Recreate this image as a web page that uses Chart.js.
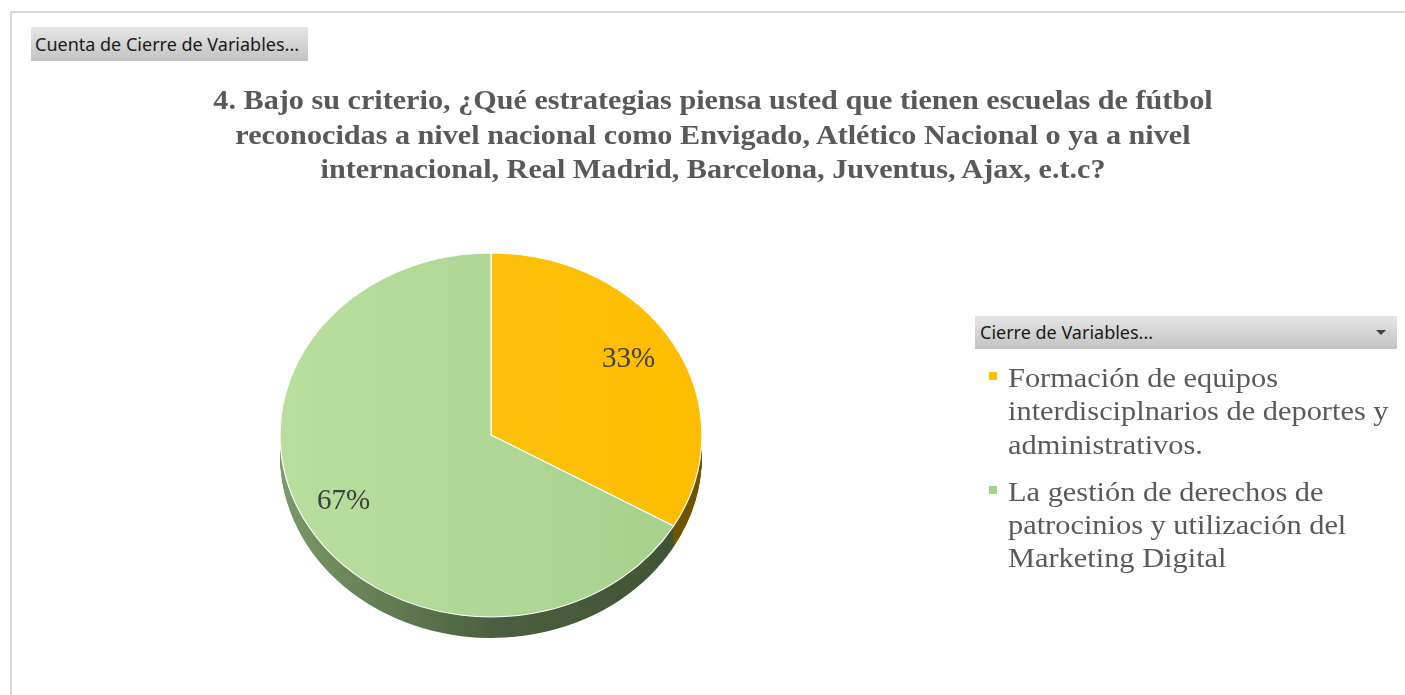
<!DOCTYPE html>
<html>
<head>
<meta charset="utf-8">
<script src="https://cdn.jsdelivr.net/npm/chart.js@4.4.1/dist/chart.umd.min.js"></script>
<style>
  html, body { margin: 0; padding: 0; background: #fff; }
  body { width: 1405px; height: 695px; overflow: hidden; position: relative; }
  #frame { position: absolute; left: 10px; top: 11px; width: 1420px; height: 720px; border-left: 2px solid #d9d9d9; border-top: 2px solid #d9d9d9; }
  #chartWrap { position: absolute; left: 0; top: 0; width: 1405px; height: 695px; }
  .btn { position: absolute; background: linear-gradient(#e6e6e6, #c3c3c3); font-family: "Noto Sans", "Open Sans", sans-serif; font-size: 18px; color: #1a1a1a; box-sizing: border-box; white-space: nowrap; }
  #fieldBtn { left: 31px; top: 27px; width: 277px; height: 34px; line-height: 34px; padding-left: 4px; }
  #legendHead { left: 975px; top: 316px; width: 422px; height: 33px; line-height: 33px; padding-left: 5px; }
  #legendHead .arrow { position: absolute; right: 11px; top: 14px; width: 0; height: 0; border-left: 5px solid transparent; border-right: 5px solid transparent; border-top: 5px solid #404040; }
  #title { position: absolute; left: 113px; width: 1200px; top: 83px; text-align: center; font-family: "Liberation Serif", "Times New Roman", serif; font-weight: bold; font-size: 28px; line-height: 34.5px; color: #595959; white-space: nowrap; transform: scaleX(1.078); transform-origin: 600px 0; }
  #legend { position: absolute; left: 989px; top: 0; font-family: "Liberation Serif", "Times New Roman", serif; font-size: 28px; line-height: 33.3px; color: #595959; }
  .item { position: absolute; left: 0; white-space: nowrap; }
  .item .mk { position: absolute; left: 0; width: 8px; height: 8px; }
  .item .tx { position: absolute; left: 19px; top: 0; transform: scaleX(1.085); transform-origin: 0 0; }
</style>
</head>
<body>
<div id="frame"></div>
<div id="chartWrap"><canvas id="c" width="1405" height="695"></canvas></div>
<div id="fieldBtn" class="btn">Cuenta de Cierre de Variables...</div>
<div id="legendHead" class="btn">Cierre de Variables...<span class="arrow"></span></div>
<div id="title"></div>
<div id="legend"></div>
<script>
// ---- data ----
const titleLines = [
  '4. Bajo su criterio, ¿Qué estrategias piensa usted que tienen escuelas de fútbol',
  'reconocidas a nivel nacional como Envigado, Atlético Nacional o ya a nivel',
  'internacional, Real Madrid, Barcelona, Juventus, Ajax, e.t.c?'
];
const categories = [
  'Formación de equipos interdisciplnarios de deportes y administrativos.',
  'La gestión de derechos de patrocinios y utilización del Marketing Digital'
];
const categoryLines = [
  ['Formación de equipos', 'interdisciplnarios de deportes y', 'administrativos.'],
  ['La gestión de derechos de', 'patrocinios y utilización del', 'Marketing Digital']
];
const counts = [1, 2];

// ---- styles ----
const faceColors = [['#ffc40f', '#fdbd00'], ['#b8df9e', '#a7cf8c']];
const sideColors = [['#8a6800', '#6e5300'], ['#7b9a67', '#4b6040', '#3f5234']];
const legendColors = ['#ffc000', '#a9d18e'];
const TILT = 182.5 / 211.5;
const DEPTH = 21;

// title
document.getElementById('title').innerHTML = titleLines.join('<br>');

// legend
const legendEl = document.getElementById('legend');
let legendTop = 361;
categoryLines.forEach((lines, i) => {
  const it = document.createElement('div');
  it.className = 'item';
  it.style.top = legendTop + 'px';
  const mk = document.createElement('div');
  mk.className = 'mk';
  mk.style.background = legendColors[i];
  mk.style.top = '11px';
  const tx = document.createElement('div');
  tx.className = 'tx';
  tx.innerHTML = lines.join('<br>');
  it.appendChild(mk); it.appendChild(tx);
  legendEl.appendChild(it);
  legendTop += lines.length * 33.3 + 14;
});

function hGrad(ctx, x0, x1, stops) {
  const g = ctx.createLinearGradient(x0, 0, x1, 0);
  stops.forEach((c, k) => g.addColorStop(stops.length === 1 ? 0 : k / (stops.length - 1), c));
  return g;
}

const pie3d = {
  id: 'pie3d',
  beforeDatasetsDraw(chart) {
    const ctx = chart.ctx;
    const meta = chart.getDatasetMeta(0);
    const c0 = meta.data[0].getProps(['x', 'y', 'outerRadius'], true);
    const cx = c0.x, cy = c0.y, R = c0.outerRadius;
    const sides = [
      hGrad(ctx, cx - R, cx + R, sideColors[0]),
      hGrad(ctx, cx - R, cx + R, sideColors[1])
    ];
    for (let d = DEPTH; d >= 1; d--) {
      ctx.save();
      ctx.translate(cx, cy + d); ctx.scale(1, TILT); ctx.translate(-cx, -cy);
      meta.data.forEach((arc, i) => {
        const p = arc.getProps(['x', 'y', 'startAngle', 'endAngle', 'outerRadius'], true);
        ctx.beginPath();
        ctx.moveTo(p.x, p.y);
        ctx.arc(p.x, p.y, p.outerRadius, p.startAngle, p.endAngle);
        ctx.closePath();
        ctx.fillStyle = sides[i];
        ctx.fill();
      });
      ctx.restore();
    }
    ctx.save();
    ctx.translate(cx, cy); ctx.scale(1, TILT); ctx.translate(-cx, -cy);
  },
  afterDatasetsDraw(chart) {
    chart.ctx.restore();
  },
  afterDraw(chart) {
    const ctx = chart.ctx;
    const meta = chart.getDatasetMeta(0);
    const total = counts.reduce((a, b) => a + b, 0);
    ctx.save();
    ctx.font = '29px "Liberation Serif", "Times New Roman", serif';
    ctx.fillStyle = '#404040';
    ctx.textAlign = 'center';
    ctx.textBaseline = 'middle';
    meta.data.forEach((arc, i) => {
      const p = arc.getProps(['x', 'y', 'startAngle', 'endAngle', 'outerRadius'], true);
      const mid = (p.startAngle + p.endAngle) / 2;
      const r = p.outerRadius * 0.78;
      const x = p.x + Math.cos(mid) * r - 5;
      const y = p.y + Math.sin(mid) * r * TILT - 5;
      ctx.fillText(Math.round(counts[i] / total * 100) + '%', x, y);
    });
    ctx.restore();
  }
};

new Chart(document.getElementById('c'), {
  type: 'pie',
  data: {
    labels: categories,
    datasets: [{
      data: counts,
      backgroundColor: (c) => {
        const ch = c.chart;
        if (!ch.chartArea) return legendColors[c.dataIndex];
        return hGrad(ch.ctx, ch.chartArea.left, ch.chartArea.right, faceColors[c.dataIndex]);
      },
      borderColor: '#ffffff',
      borderWidth: 1.2,
      hoverOffset: 0
    }]
  },
  options: {
    responsive: false,
    animation: false,
    events: [],
    layout: { padding: { left: 279.5, right: 702.5, top: 223.5, bottom: 48.5 } },
    plugins: {
      legend: { display: false },
      title: { display: false },
      tooltip: { enabled: false }
    }
  },
  plugins: [pie3d]
});
</script>
</body>
</html>
